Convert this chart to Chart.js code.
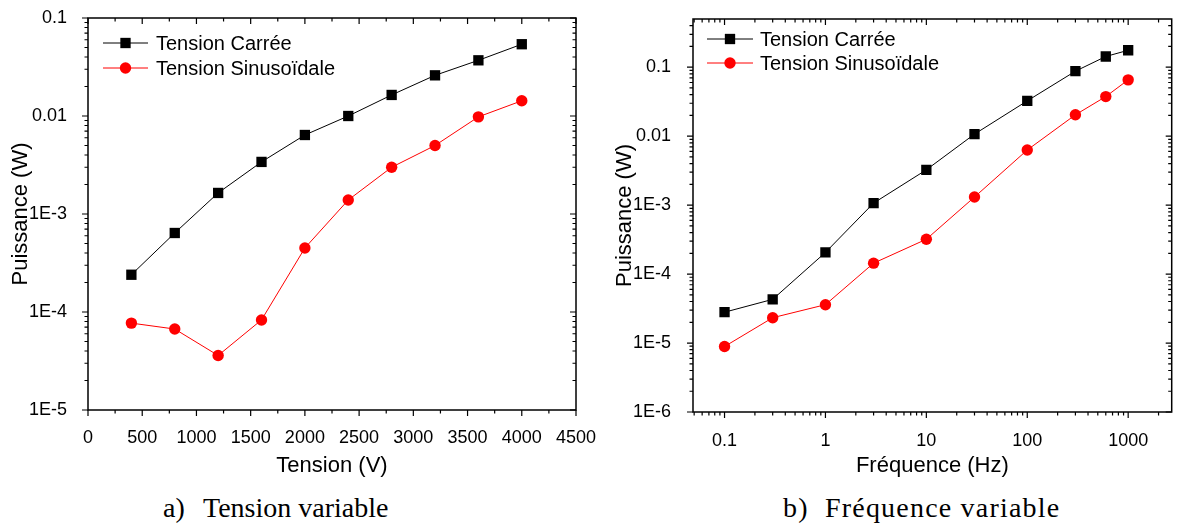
<!DOCTYPE html>
<html>
<head>
<meta charset="utf-8">
<title>Puissance</title>
<script src="https://cdn.jsdelivr.net/npm/chart.js@4"></script>
<style>
  body { margin: 0; background: #fff; width: 1179px; height: 531px; overflow: hidden; position: relative; }
  #chartA { position: absolute; left: 0; top: 0; }
  #chartB { position: absolute; left: 600px; top: 0; }
  .cap { position: absolute; top: 492px; font-family: "Liberation Serif", "Times New Roman", serif; font-size: 28px; color: #000; white-space: nowrap; }
  .cap span { display: inline-block; }
</style>
</head>
<body>
<canvas id="chartA" width="600" height="485"></canvas>
<canvas id="chartB" width="579" height="485"></canvas>
<div class="cap" style="left:163px"><span style="width:40px">a)</span>Tension variable</div>
<div class="cap" style="left:783px; letter-spacing:1.2px"><span style="width:42px">b)</span>Fréquence variable</div>
<script>
// a) tension variable
var tension = [400, 800, 1200, 1600, 2000, 2400, 2800, 3200, 3600, 4000];
var tensionCarree = [2.4e-4, 6.4e-4, 1.64e-3, 3.4e-3, 6.4e-3, 0.0100, 0.0164, 0.026, 0.037, 0.054];
var tensionSinus = [7.7e-5, 6.7e-5, 3.6e-5, 8.3e-5, 4.5e-4, 1.39e-3, 3.0e-3, 5.0e-3, 9.8e-3, 0.0143];

// b) frequence variable
var frequence = [0.1, 0.3, 1, 3, 10, 30, 100, 300, 600, 1000];
var freqCarree = [2.8e-5, 4.3e-5, 2.06e-4, 1.07e-3, 3.25e-3, 0.0107, 0.0325, 0.0875, 0.143, 0.176];
var freqSinus = [8.9e-6, 2.33e-5, 3.6e-5, 1.44e-4, 3.2e-4, 1.31e-3, 6.3e-3, 0.0204, 0.0375, 0.0655];

// tick labels
var ticksTension = [0, 500, 1000, 1500, 2000, 2500, 3000, 3500, 4000, 4500];
var labelsTension = ['0', '500', '1000', '1500', '2000', '2500', '3000', '3500', '4000', '4500'];
var ticksPuissanceA = [1e-5, 1e-4, 1e-3, 0.01, 0.1];
var labelsPuissanceA = ['1E-5', '1E-4', '1E-3', '0.01', '0.1'];
var ticksPuissanceB = [1e-6, 1e-5, 1e-4, 1e-3, 0.01, 0.1];
var labelsPuissanceB = ['1E-6', '1E-5', '1E-4', '1E-3', '0.01', '0.1'];
var ticksFreq = [0.1, 1, 10, 100, 1000];
var labelsFreq = ['0.1', '1', '10', '100', '1000'];

var SANS = "'Liberation Sans', Arial, sans-serif";
Chart.defaults.font.family = SANS;
Chart.defaults.color = '#000';

// minor ticks between decades (2..9 x 10^n)
function logMinor(min, max) {
    var out = [];
    for (var n = Math.floor(Math.log10(min)); n <= Math.ceil(Math.log10(max)); n++) {
        for (var k = 2; k <= 9; k++) {
            var v = k * Math.pow(10, n);
            if (v >= min && v <= max * 0.999) out.push(v);
        }
    }
    return out;
}

function series(x, y) {
    return x.map(function (v, i) { return { x: v, y: y[i] }; });
}

function makeSets(x, carree, sinus) {
    return [{
        label: 'Tension Carrée',
        data: series(x, carree),
        showLine: true,
        borderColor: '#000000',
        backgroundColor: '#000000',
        borderWidth: 1,
        pointStyle: 'rect',
        pointRadius: 7.3,
        pointBorderWidth: 0
    }, {
        label: 'Tension Sinusoïdale',
        data: series(x, sinus),
        showLine: true,
        borderColor: '#ff0000',
        backgroundColor: '#ff0000',
        borderWidth: 1,
        pointStyle: 'circle',
        pointRadius: 5.7,
        pointBorderWidth: 0
    }];
}

// frame, inward/outward ticks and the legend box, Origin style
var frameTicks = {
    id: 'frameTicks',
    afterDatasetsDraw: function (chart, args, o) {
        var ctx = chart.ctx, a = chart.chartArea;
        var sx = chart.scales.x, sy = chart.scales.y;
        ctx.save();
        ctx.strokeStyle = '#000';
        ctx.lineWidth = 1.2;
        ctx.beginPath();
        function xt(list, len) {
            list.forEach(function (v) {
                var p = sx.getPixelForValue(v);
                ctx.moveTo(p, a.bottom); ctx.lineTo(p, a.bottom + len);
                ctx.moveTo(p, a.top); ctx.lineTo(p, a.top + len);
            });
        }
        function yt(list, len) {
            list.forEach(function (v) {
                var p = sy.getPixelForValue(v);
                ctx.moveTo(a.left, p); ctx.lineTo(a.left - len, p);
                ctx.moveTo(a.right, p); ctx.lineTo(a.right - len, p);
            });
        }
        xt(o.xMajor, 6); xt(o.xMinor, 3.5);
        yt(o.yMajor, 6); yt(o.yMinor, 3.5);
        ctx.stroke();
        ctx.lineWidth = 1.5;
        ctx.strokeRect(a.left, a.top, a.right - a.left, a.bottom - a.top);

        var L = o.legend;
        ctx.font = '20px ' + SANS;
        ctx.textBaseline = 'middle';
        chart.data.datasets.forEach(function (ds, i) {
            var y = L.y + i * L.gap;
            ctx.strokeStyle = ds.borderColor;
            ctx.lineWidth = 1;
            ctx.beginPath();
            ctx.moveTo(L.x, y); ctx.lineTo(L.x + L.len, y);
            ctx.stroke();
            ctx.fillStyle = ds.backgroundColor;
            Chart.helpers.drawPoint(ctx, { pointStyle: ds.pointStyle, radius: ds.pointRadius, rotation: 0, borderWidth: 0 }, L.x + L.len / 2, y);
            ctx.fillStyle = '#000';
            ctx.fillText(ds.label, L.textX, y + 1);
        });
        ctx.restore();
    }
};

function fixTicks(values) {
    return function (s) { s.ticks = values.map(function (v) { return { value: v }; }); };
}
function labelFrom(values, labels) {
    return function (v) { return labels[values.indexOf(v)]; };
}
function fitWidth(w) {
    return function (s) { s.width = w; s.paddingTop = 0; s.paddingBottom = 0; };
}
function fitHeight(h) {
    return function (s) { s.height = h; s.paddingLeft = 0; s.paddingRight = 0; };
}

new Chart(document.getElementById('chartA'), {
    type: 'scatter',
    data: { datasets: makeSets(tension, tensionCarree, tensionSinus) },
    plugins: [frameTicks],
    options: {
        responsive: false,
        animation: false,
        devicePixelRatio: 1,
        layout: { padding: { left: 0, right: 24, top: 18, bottom: 0 } },
        plugins: {
            legend: { display: false },
            tooltip: { enabled: false },
            frameTicks: {
                xMajor: ticksTension,
                xMinor: ticksTension.slice(0, -1).map(function (v) { return v + 250; }),
                yMajor: ticksPuissanceA,
                yMinor: logMinor(1e-5, 0.1),
                legend: { x: 103, y: 43, gap: 25, len: 45, textX: 156 }
            }
        },
        scales: {
            x: {
                type: 'linear', min: 0, max: 4500,
                afterBuildTicks: fixTicks(ticksTension),
                afterFit: fitHeight(75),
                grid: { display: false }, border: { display: false },
                ticks: { font: { size: 18 }, padding: 9, maxRotation: 0, autoSkip: false, callback: labelFrom(ticksTension, labelsTension) },
                title: { display: true, text: 'Tension (V)', font: { size: 22 }, padding: { top: 0, bottom: 6 } }
            },
            y: {
                type: 'logarithmic', min: 1e-5, max: 0.1,
                afterBuildTicks: fixTicks(ticksPuissanceA),
                afterFit: fitWidth(88),
                grid: { display: false }, border: { display: false },
                ticks: { font: { size: 18 }, padding: 13, autoSkip: false, callback: labelFrom(ticksPuissanceA, labelsPuissanceA) },
                title: { display: true, text: 'Puissance (W)', font: { size: 22 }, padding: { top: 8, bottom: 0 } }
            }
        }
    }
});

new Chart(document.getElementById('chartB'), {
    type: 'scatter',
    data: { datasets: makeSets(frequence, freqCarree, freqSinus) },
    plugins: [frameTicks],
    options: {
        responsive: false,
        animation: false,
        devicePixelRatio: 1,
        layout: { padding: { left: 0, right: 1, top: 19, bottom: 0 } },
        plugins: {
            legend: { display: false },
            tooltip: { enabled: false },
            frameTicks: {
                xMajor: ticksFreq,
                xMinor: logMinor(0.0487, 2700),
                yMajor: ticksPuissanceB,
                yMinor: logMinor(1e-6, 0.5),
                legend: { x: 107, y: 39, gap: 24, len: 46, textX: 160 }
            }
        },
        scales: {
            x: {
                type: 'logarithmic', min: 0.0487, max: 2700,
                afterBuildTicks: fixTicks(ticksFreq),
                afterFit: fitHeight(73),
                grid: { display: false }, border: { display: false },
                ticks: { font: { size: 18 }, padding: 10, maxRotation: 0, autoSkip: false, callback: labelFrom(ticksFreq, labelsFreq) },
                title: { display: true, text: 'Fréquence (Hz)', font: { size: 22 }, padding: { top: 0, bottom: 6 } }
            },
            y: {
                type: 'logarithmic', min: 1e-6, max: 0.5,
                afterBuildTicks: fixTicks(ticksPuissanceB),
                afterFit: fitWidth(93),
                grid: { display: false }, border: { display: false },
                ticks: { font: { size: 18 }, padding: 14, autoSkip: false, callback: labelFrom(ticksPuissanceB, labelsPuissanceB) },
                title: { display: true, text: 'Puissance (W)', font: { size: 22 }, padding: { top: 12, bottom: 0 } }
            }
        }
    }
});
</script>
</body>
</html>
